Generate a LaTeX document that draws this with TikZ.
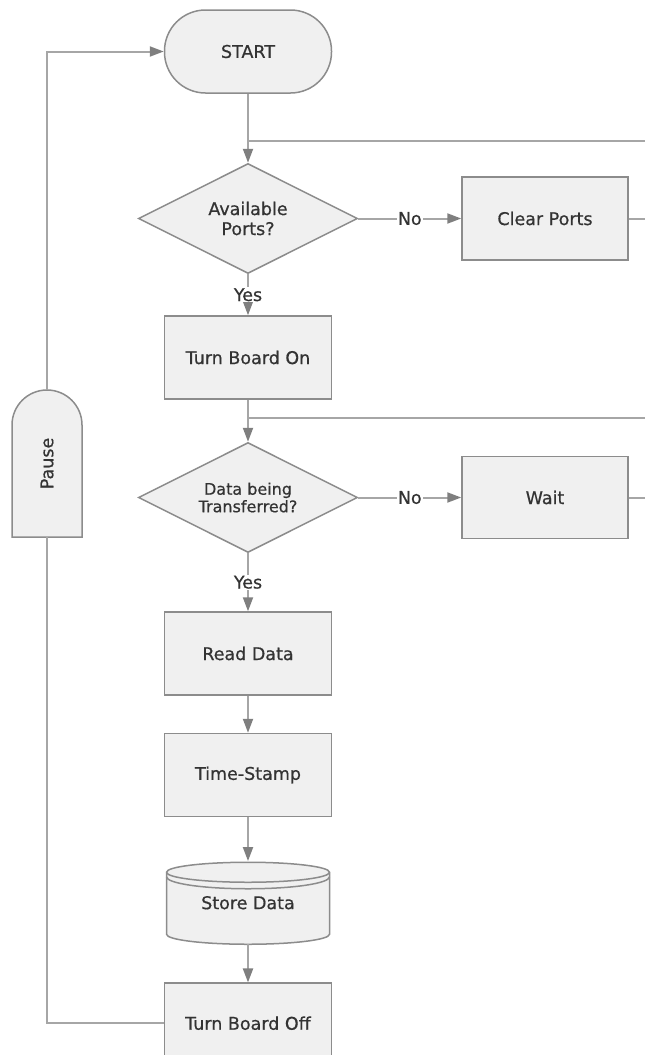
\documentclass[tikz,border=0pt]{standalone}
\usepackage{fontspec}
\setmainfont{DejaVu Sans}[FakeBold=0.6]
\usetikzlibrary{arrows.meta,positioning,shapes.geometric}
\definecolor{edge}{HTML}{8C8C8C}
\definecolor{wire}{HTML}{A6A6A6}
\definecolor{tipc}{HTML}{7F7F7F}
\definecolor{soft}{HTML}{F0F0F0}
\definecolor{ink}{HTML}{333333}

\begin{document}
\begin{tikzpicture}[x=1pt,y=1pt,>={Triangle[length=14pt,width=10pt,color=tipc]},
 node distance=40pt and 103pt,font=\fontsize{17.5}{20}\selectfont,
 b/.style={draw=edge,line width=1.5pt,fill=soft,text=ink,align=center,
 minimum width=167pt,minimum height=83pt,inner sep=0pt},
 t/.style={b,rounded corners=41pt},
 d/.style={b,diamond,aspect=2,minimum width=219pt,minimum height=110pt},
 shp/.style={draw=edge,line width=1.5pt,fill=soft},
 w/.style={draw=wire,line width=2pt},
 l/.style={fill=white,text=ink,inner sep=1pt}]
\useasboundingbox (0,0) rectangle (645,-1055);
\coordinate (rim) at (645,0);
\node[t] (start) at (248,-51.5) {START};
\node[d,below=69pt of start] (avail) {Available\\Ports?};
\node[b,right=of avail,minimum width=166pt] (clear) {Clear Ports};
\node[b,below=41pt of avail] (boardon) {Turn Board On};
\node[d,below=42pt of boardon,font=\fontsize{16}{17.5}\selectfont] (transf) {Data being\\Transferred?};
\node[b,right=of transf,minimum width=166pt,minimum height=82pt] (wait) {Wait};
\node[b,below=58pt of transf] (read) {Read Data};
\node[b,below=37pt of read] (stamp) {Time-Stamp};
\coordinate (s) at ([yshift=-85.5pt]stamp.south);
\draw[shp,shift={(s)}] (-81.5,30.5) -- (-81.5,-31.5)
  arc[start angle=180,end angle=360,x radius=81.5,y radius=10]
  -- (81.5,30.5) arc[start angle=0,end angle=180,x radius=81.5,y radius=10] -- cycle;
\draw[draw=edge,line width=1.5pt,shift={(s)}] (-81.5,30.5)
  arc[start angle=180,end angle=360,x radius=81.5,y radius=10]
  (-81.5,26) arc[start angle=180,end angle=360,x radius=81.5,y radius=12];
\node[text=ink,minimum width=163pt,minimum height=83pt,inner sep=0pt] (store) at (s) {Store Data};
\node[b,below=38pt of store,minimum height=80pt] (boardoff) {Turn Board Off};
\coordinate (p) at (47,-463.5);
\draw[shp,shift={(p)}] (-35,-73.5) -- (-35,38.5) arc[start angle=180,end angle=0,radius=35]
  -- (35,-73.5) -- cycle;
\node[text=ink,minimum width=70pt,minimum height=147pt,inner sep=0pt] (pause) at (p)
  {\rotatebox{90}{Pause}};
\coordinate (loopA) at ([yshift=-47pt]start.south);
\coordinate (loopB) at ([yshift=-18pt]boardon.south);
\draw[w,->] (start) -- (avail);
\draw[w] (loopA) -- (loopA -| rim);
\draw[w,->] (avail) -- node[l] {No} (clear);
\draw[w] (clear) -- (clear.east -| rim);
\draw[w,->] (avail) -- node[l] {Yes} (boardon);
\draw[w,->] (boardon) -- (transf);
\draw[w] (loopB) -- (loopB -| rim);
\draw[w,->] (transf) -- node[l] {No} (wait);
\draw[w] (wait) -- (wait.east -| rim);
\draw[w,->] (transf) -- node[l] {Yes} (read);
\draw[w,->] (read) -- (stamp);
\draw[w,->] (stamp) -- (store);
\draw[w,->] (store) -- (boardoff);
\draw[w] (boardoff) -| (pause);
\draw[w,->] (pause) |- (start);
\end{tikzpicture}
\end{document}
